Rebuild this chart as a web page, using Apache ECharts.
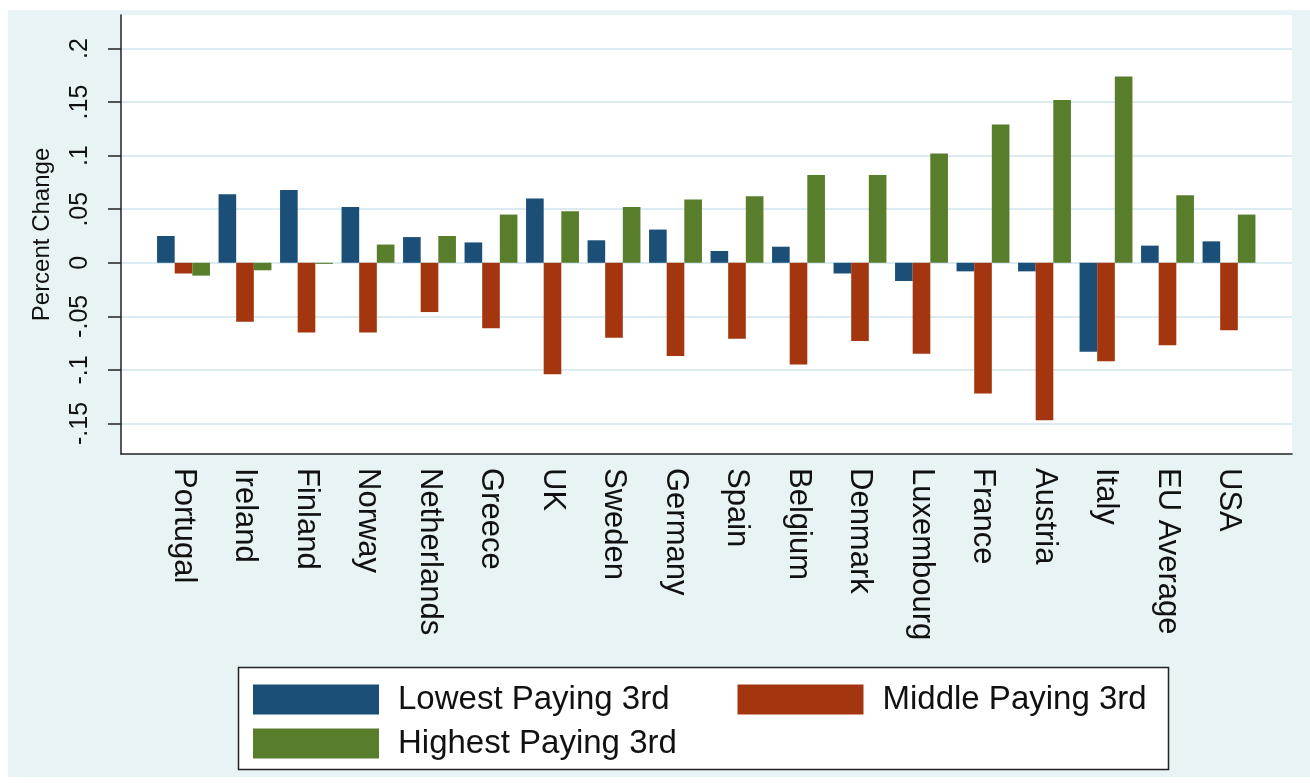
<!DOCTYPE html>
<html>
<head>
<meta charset="utf-8">
<script src="https://cdn.jsdelivr.net/npm/echarts@6/dist/echarts.min.js"></script>
<style>
  html, body { margin: 0; padding: 0; background: #ffffff; }
  #bg { position: absolute; left: 8px; top: 10px; width: 1302px; height: 767px; background: #e7f3f5; }
  #chart { position: absolute; left: 0; top: 0; width: 1310px; height: 783px; }
</style>
</head>
<body>
<div id="bg"></div>
<div id="chart"></div>
<script>
const categories = ['Portugal', 'Ireland', 'Finland', 'Norway', 'Netherlands', 'Greece', 'UK', 'Sweden', 'Germany', 'Spain', 'Belgium', 'Denmark', 'Luxembourg', 'France', 'Austria', 'Italy', 'EU Average', 'USA'];
const seriesNames = ['Lowest Paying 3rd', 'Middle Paying 3rd', 'Highest Paying 3rd'];
const lowest  = [0.025, 0.064, 0.068, 0.052, 0.024, 0.019, 0.060, 0.021, 0.031, 0.011, 0.015, -0.010, -0.017, -0.008, -0.008, -0.083, 0.016, 0.020];
const middle  = [-0.010, -0.055, -0.065, -0.065, -0.046, -0.061, -0.104, -0.070, -0.087, -0.071, -0.095, -0.073, -0.085, -0.122, -0.147, -0.092, -0.077, -0.063];
const highest = [-0.012, -0.007, -0.001, 0.017, 0.025, 0.045, 0.048, 0.052, 0.059, 0.062, 0.082, 0.082, 0.102, 0.129, 0.152, 0.174, 0.063, 0.045];
const yTicks = [-0.15, -0.1, -0.05, 0, 0.05, 0.1, 0.15, 0.2];
const yTickLabels = ['-.15', '-.1', '-.05', '0', '.05', '.1', '.15', '.2'];
const yMin = -0.1785, yMax = 0.2313;

const colors = ['#1b4f78', '#a3360f', '#587d2b'];
const FONT = '"Liberation Sans", Arial, Helvetica, sans-serif';

const chart = echarts.init(document.getElementById('chart'), null, { renderer: 'canvas' });

function labelFor(v) {
  for (let i = 0; i < yTicks.length; i++) {
    if (Math.abs(yTicks[i] - v) < 1e-9) return yTickLabels[i];
  }
  return '';
}

const option = {
  backgroundColor: 'transparent',
  animation: false,
  textStyle: { fontFamily: FONT },
  grid: [
    { left: 121, top: 15, right: 18, bottom: 329, show: true, backgroundColor: '#ffffff', borderWidth: 0 },
    { left: 152.75, top: 15, right: 50.25, bottom: 329 }
  ],
  xAxis: [
    {
      gridIndex: 0, type: 'value', min: 0, max: 1,
      axisLine: { show: true, onZero: false, lineStyle: { color: '#222', width: 1.5 } },
      axisTick: { show: false }, axisLabel: { show: false }, splitLine: { show: false }
    },
    {
      gridIndex: 1, type: 'category', data: categories,
      axisLine: { show: false }, axisTick: { show: false },
      axisLabel: { interval: 0, rotate: -90, margin: 14, fontSize: 31, color: '#111', fontFamily: FONT }
    }
  ],
  yAxis: [
    {
      gridIndex: 0, type: 'value', min: yMin, max: yMax,
      name: 'Percent Change', nameLocation: 'middle', nameRotate: 90, nameGap: 67,
      nameTextStyle: { fontSize: 24, color: '#111', fontFamily: FONT },
      axisLine: { show: true, onZero: false, lineStyle: { color: '#222', width: 1.5 } },
      axisTick: { show: true, length: 13, customValues: yTicks, lineStyle: { color: '#222', width: 1.5 } },
      axisLabel: { customValues: yTicks, rotate: 90, margin: 28, fontSize: 25, color: '#111', fontFamily: FONT, formatter: labelFor },
      splitLine: { show: true, lineStyle: { color: '#dcebf1', width: 2 } }
    },
    {
      gridIndex: 1, type: 'value', min: yMin, max: yMax, show: false,
      splitLine: { show: false }
    }
  ],
  legend: [
    {
      data: [seriesNames[0], seriesNames[1]], left: 253, top: 683, orient: 'horizontal',
      itemWidth: 126, itemHeight: 30, itemGap: 68, padding: 0, icon: 'rect',
      textStyle: { fontSize: 33, color: '#111', fontFamily: FONT, padding: [0, 0, 0, 14] }
    },
    {
      data: [seriesNames[2]], left: 253, top: 727, orient: 'horizontal',
      itemWidth: 126, itemHeight: 30, padding: 0, icon: 'rect',
      textStyle: { fontSize: 33, color: '#111', fontFamily: FONT, padding: [0, 0, 0, 14] }
    }
  ],
  graphic: [
    { type: 'rect', z: -1, shape: { x: 238.5, y: 667.5, width: 930, height: 102 }, style: { fill: '#ffffff', stroke: '#222', lineWidth: 1.5 } }
  ],
  series: [
    { name: seriesNames[0], type: 'bar', xAxisIndex: 1, yAxisIndex: 1, data: lowest, barGap: 0, barCategoryGap: '14%', itemStyle: { color: colors[0] } },
    { name: seriesNames[1], type: 'bar', xAxisIndex: 1, yAxisIndex: 1, data: middle, barGap: 0, barCategoryGap: '14%', itemStyle: { color: colors[1] } },
    { name: seriesNames[2], type: 'bar', xAxisIndex: 1, yAxisIndex: 1, data: highest, barGap: 0, barCategoryGap: '14%', itemStyle: { color: colors[2] } }
  ]
};
chart.setOption(option);
</script>
</body>
</html>
